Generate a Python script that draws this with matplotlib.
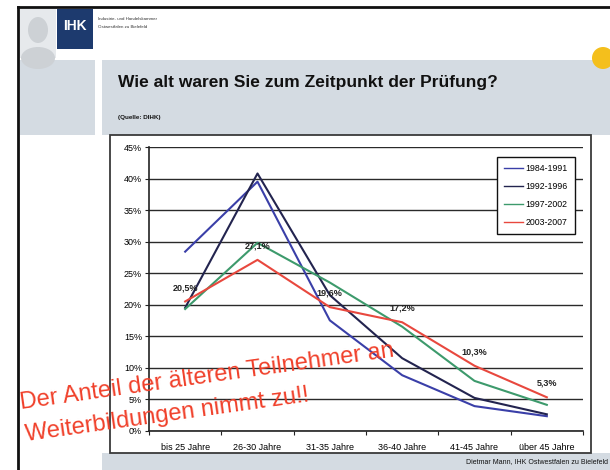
import numpy as np
import matplotlib
matplotlib.use('Agg')
import matplotlib.pyplot as plt
from matplotlib.patches import Rectangle, Circle, Ellipse

plt.rcParams['font.family'] = ['Liberation Sans', 'DejaVu Sans']

# Daten (Anteile in %)
kategorien = ['bis 25 Jahre', '26-30 Jahre', '31-35 Jahre', '36-40 Jahre', '41-45 Jahre', 'über 45 Jahre']
reihen = ['1984-1991', '1992-1996', '1997-2002', '2003-2007']
w_1984 = [28.4, 39.5, 17.5, 8.8, 3.9, 2.3]
w_1992 = [19.5, 40.8, 21.5, 11.5, 5.2, 2.6]
w_1997 = [19.3, 29.8, 23.5, 16.5, 7.9, 4.1]
w_2003 = [20.5, 27.1, 19.6, 17.2, 10.3, 5.3]
beschriftung = ['20,5%', '27,1%', '19,6%', '17,2%', '10,3%', '5,3%']
farben = ['#3a3fa8', '#23244f', '#3d9a6c', '#e8483e']

W, H = 610, 470
fig = plt.figure(figsize=(W / 100, H / 100), dpi=100)

# Folienhintergrund
bg = fig.add_axes([0, 0, 1, 1])
bg.set_xlim(0, W)
bg.set_ylim(H, 0)
bg.axis('off')

grau = '#d4dbe2'
bg.add_patch(Rectangle((20, 60), 75, 75, color=grau, lw=0))
bg.add_patch(Rectangle((102, 60), W - 102, 75, color=grau, lw=0))
bg.add_patch(Rectangle((102, 453), W - 102, 20, color=grau, lw=0))
bg.plot([18, 18], [7, H], color='#111111', lw=2)
bg.plot([18, W], [7, 7], color='#111111', lw=2)

# Logo
bg.add_patch(Rectangle((20, 9), 36, 49, color='#e6e9ec', lw=0))
bg.add_patch(Ellipse((38, 30), 20, 26, color='#cdd1d5', lw=0))
bg.add_patch(Ellipse((38, 58), 34, 22, color='#cdd1d5', lw=0))
bg.add_patch(Rectangle((57, 9), 36, 40, color='#1d3a6e', lw=0))
bg.text(75, 26, 'IHK', color='white', fontsize=10, fontweight='bold', ha='center', va='center')
bg.text(98, 19, 'Industrie- und Handelskammer', fontsize=3.2, color='#333333', va='center')
bg.text(98, 27, 'Ostwestfalen zu Bielefeld', fontsize=3.2, color='#333333', va='center')
bg.add_patch(Circle((603, 58), 11, color='#f4bf1c', lw=0))

bg.text(118, 83, 'Wie alt waren Sie zum Zeitpunkt der Prüfung?', fontsize=12.5,
        fontweight='bold', va='center', color='#111111')
bg.text(118, 117, '(Quelle: DIHK)', fontsize=4.5, fontweight='bold', va='center', color='#111111')
bg.text(W - 2, 462, 'Dietmar Mann, IHK Ostwestfalen zu Bielefeld', fontsize=5,
        ha='right', va='center', color='#111111')

# Diagrammrahmen
bg.add_patch(Rectangle((110, 135), 481, 318, facecolor='white', edgecolor='#3a3a3a', lw=1.3))

# Diagramm
x0, x1, ytop, ybot = 149, 583, 147, 430.7
ax = fig.add_axes([x0 / W, (H - ybot) / H, (x1 - x0) / W, (ybot - ytop) / H])
ax.set_facecolor('none')
x = np.arange(len(kategorien))
for werte, name, c in zip([w_1984, w_1992, w_1997, w_2003], reihen, farben):
    ax.plot(x, werte, color=c, lw=1.5, label=name)

for xi, yi, t in zip(x, w_2003, beschriftung):
    ax.annotate(t, (xi, yi), xytext=(0, 10), textcoords='offset points',
                ha='center', va='center', fontsize=6.5, fontweight='bold', color='#222222')

ax.set_xlim(-0.5, len(kategorien) - 0.5)
ax.set_ylim(0, 45)
ax.set_yticks(np.arange(0, 46, 5))
ax.set_yticklabels([f'{v}%' for v in range(0, 46, 5)])
ax.set_xticks(np.arange(-0.5, len(kategorien)), labels=[])
ax.set_xticks(x, labels=kategorien, minor=True)
ax.tick_params(axis='x', which='major', length=3, direction='out', color='#222222')
ax.tick_params(axis='x', which='minor', length=0, pad=9, labelsize=6.5)
ax.tick_params(axis='y', length=3, direction='out', labelsize=6.5, pad=2, color='#222222')
ax.yaxis.grid(True, color='#2a2a2a', lw=1)
ax.set_axisbelow(True)
for s in ['top', 'right']:
    ax.spines[s].set_visible(False)
for s in ['left', 'bottom']:
    ax.spines[s].set_color('#222222')
    ax.spines[s].set_linewidth(1.2)

leg = ax.legend(loc='upper right', bbox_to_anchor=(0.991, 0.979), fontsize=6.3,
                handlelength=2.2, labelspacing=1.0, borderpad=0.8, handletextpad=0.3,
                fancybox=False, framealpha=1, edgecolor='#111111')
leg.get_frame().set_linewidth(1.0)
for l in leg.get_lines():
    l.set_linewidth(1.0)

# roter Kommentar
rot = '#f0402a'
fig.text(21 / W, (H - 409) / H, 'Der Anteil der älteren Teilnehmer an', fontsize=17,
         color=rot, rotation=8, rotation_mode='anchor', ha='left', va='baseline', zorder=10)
fig.text(26 / W, (H - 441) / H, 'Weiterbildungen nimmt zu!!', fontsize=17,
         color=rot, rotation=8, rotation_mode='anchor', ha='left', va='baseline', zorder=10)

fig.savefig('out.png', dpi=100)
